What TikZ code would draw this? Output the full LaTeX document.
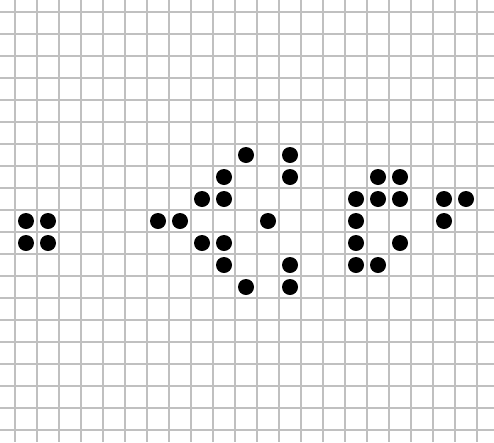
\documentclass[tikz,border=0pt]{standalone}
\definecolor{gridgray}{RGB}{192,192,192}
\begin{document}
\begin{tikzpicture}[x=1pt,y=-1pt,
  gridline/.style={draw=gridgray,line width=2pt},
  cell/.style={circle,fill=black,inner sep=0pt,minimum size=16pt}]
\useasboundingbox (0,0) rectangle (494,442);
\fill[white] (0,0) rectangle (494,442);
\foreach \k in {0,...,21} \draw[gridline] ({15+22*\k},0) -- ({15+22*\k},442);
\foreach \k in {0,...,19} \draw[gridline] (0,{12+22*\k}) -- (494,{12+22*\k});
\foreach \c/\r [count=\i] in {0/9,1/9,0/10,1/10,
  10/6,12/6,9/7,12/7,8/8,9/8,6/9,7/9,11/9,8/10,9/10,9/11,12/11,10/12,12/12,
  16/7,17/7,15/8,16/8,17/8,19/8,20/8,15/9,19/9,15/10,17/10,15/11,16/11}
  \node[cell] (d\i) at ({26+22*\c},{23+22*\r}) {};
\end{tikzpicture}
\end{document}
